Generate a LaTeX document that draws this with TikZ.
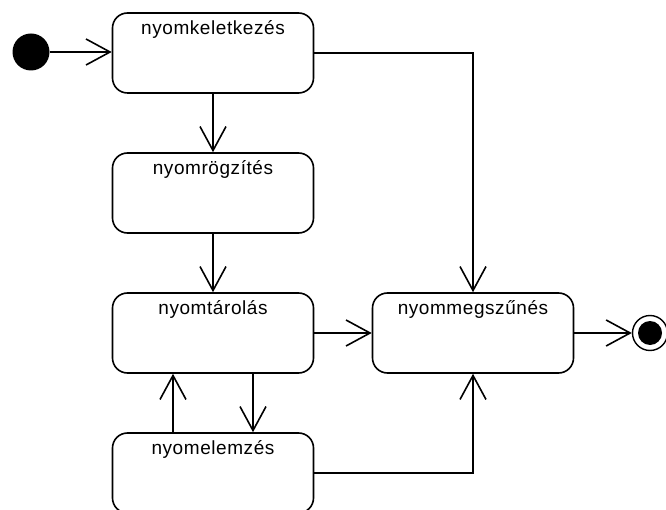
\documentclass[tikz,border=0pt]{standalone}
\usepackage{fontspec}
\setmainfont{Liberation Sans}[LetterSpace=3]
\usetikzlibrary{arrows.meta}
\begin{document}
\begin{tikzpicture}[x=1pt,y=-1pt,
  state/.style={draw, line width=1.6pt, rounded corners=15pt,
    minimum width=201pt, minimum height=80pt, inner sep=0pt},
  lbl/.style={anchor=base, inner sep=0pt, font=\fontsize{19}{21}\selectfont},
  arr/.style={line width=1.6pt, -{Straight Barb[length=24pt,width=26pt,line width=1.6pt]}},
  startdot/.style={circle, fill=black, minimum size=37pt, inner sep=0pt},
  enddot/.style={circle, draw, line width=1.4pt, fill=white, minimum size=35pt, inner sep=0pt}]
  \useasboundingbox (0,0) rectangle (666,510);

  % states
  \node[state] (k) at (213,53) {};
  \node[state] (r) at (213,193) {};
  \node[state] (t) at (213,333) {};
  \node[state] (e) at (213,473) {};
  \node[state] (m) at (473,333) {};

  \node[lbl] (kt) at ([yshift=-22pt]k.north) {nyomkeletkezés};
  \node[lbl] (rt) at ([yshift=-22pt]r.north) {nyomrögzítés};
  \node[lbl] (tt) at ([yshift=-22pt]t.north) {nyomtárolás};
  \node[lbl] (et) at ([yshift=-22pt]e.north) {nyomelemzés};
  \node[lbl] (mt) at ([yshift=-22pt]m.north) {nyommegszűnés};

  % initial and final pseudo-states
  \node[startdot] (init) at (31,52) {};
  \node[enddot] (final) at (650,333) {};
  \fill (final) circle (12pt);

  % transitions
  \draw[arr] (init) -- (init -| k.west);
  \draw[arr] (k.east) -| (m.north);
  \draw[arr] (k) -- (r);
  \draw[arr] (r) -- (t);
  \draw[arr] (t) -- (m);
  \draw[arr] ([xshift=40pt]t.south) -- ([xshift=40pt]e.north);
  \draw[arr] ([xshift=-40pt]e.north) -- ([xshift=-40pt]t.south);
  \draw[arr] (e.east) -| (m.south);
  \draw[arr] (m) -- (final);
\end{tikzpicture}
\end{document}
